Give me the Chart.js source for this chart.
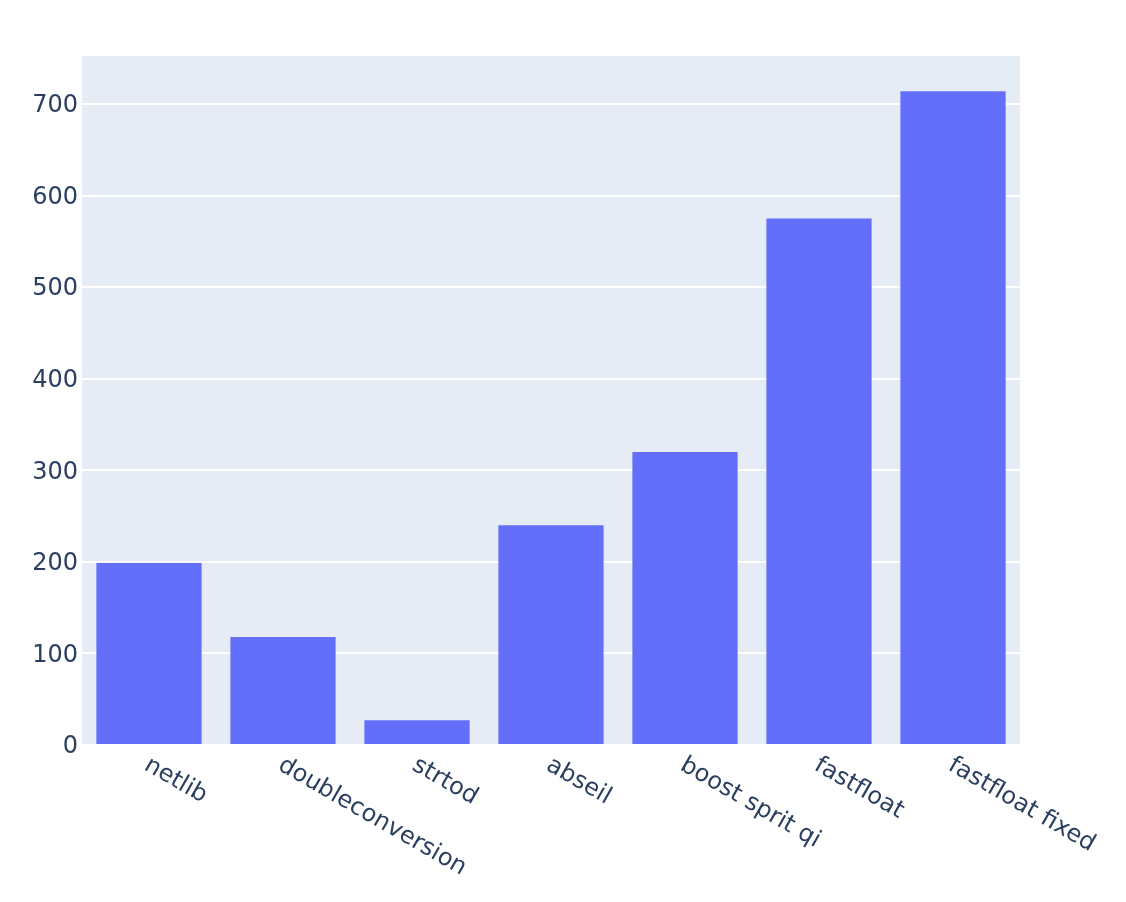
<!DOCTYPE html>
<html lang="en">
<head>
    <meta charset="UTF-8">
    <title>Parsing speed</title>
    <style>
        body {
            margin: 0;
            background: #ffffff;
        }
        #chart {
            display: block;
        }
    </style>
    <script src="https://cdn.jsdelivr.net/npm/chart.js"></script>
</head>
<body>
    <canvas id="chart" width="1126" height="902"></canvas>

    <script>
        // Data
        const libraries = ['netlib', 'doubleconversion', 'strtod', 'abseil', 'boost sprit qi', 'fastfloat', 'fastfloat fixed'];
        const speeds = [200, 119, 28, 241, 321, 576, 715];
        const yTicks = [0, 100, 200, 300, 400, 500, 600, 700];

        const fontFamily = '"DejaVu Sans", Verdana, sans-serif';
        const textColor = '#2a3f5f';

        // Plotly-like background for the plot area
        const plotBackground = {
            id: 'plotBackground',
            beforeDraw(chart) {
                const { ctx, chartArea } = chart;
                ctx.save();
                ctx.fillStyle = '#E5ECF6';
                ctx.fillRect(chartArea.left, chartArea.top, chartArea.right - chartArea.left, chartArea.bottom - chartArea.top);
                ctx.restore();
            }
        };

        // Rotated category labels reading down to the right
        const slantedLabels = {
            id: 'slantedLabels',
            afterDraw(chart) {
                const { ctx, chartArea } = chart;
                const xScale = chart.scales.x;
                ctx.save();
                ctx.font = '24px ' + fontFamily;
                ctx.fillStyle = textColor;
                ctx.textAlign = 'left';
                ctx.textBaseline = 'alphabetic';
                libraries.forEach((name, i) => {
                    const x = xScale.getPixelForValue(i);
                    ctx.save();
                    ctx.translate(x - 6, chartArea.bottom + 24);
                    ctx.rotate(Math.PI / 6);
                    ctx.fillText(name, 0, 0);
                    ctx.restore();
                });
                ctx.restore();
            }
        };

        new Chart(document.getElementById('chart').getContext('2d'), {
            type: 'bar',
            data: {
                labels: libraries,
                datasets: [{
                    data: speeds,
                    backgroundColor: '#636EFA',
                    borderColor: 'rgba(229, 236, 246, 0.5)',
                    borderWidth: 1,
                    barPercentage: 0.8,
                    categoryPercentage: 1.0
                }]
            },
            options: {
                responsive: false,
                animation: false,
                layout: {
                    padding: { left: 0, right: 106, top: 56, bottom: 0 }
                },
                plugins: {
                    legend: { display: false },
                    tooltip: { enabled: false }
                },
                scales: {
                    x: {
                        grid: { display: false },
                        border: { display: false },
                        ticks: { display: false },
                        afterFit(scale) { scale.height = 157; }
                    },
                    y: {
                        min: 0,
                        max: 752.5,
                        grid: { color: '#ffffff', lineWidth: 2, drawTicks: false },
                        border: { display: false },
                        ticks: {
                            padding: 4,
                            labelOffset: 2,
                            color: textColor,
                            font: { family: fontFamily, size: 24 }
                        },
                        afterBuildTicks(scale) {
                            scale.ticks = yTicks.map(v => ({ value: v }));
                        },
                        afterFit(scale) { scale.width = 82; }
                    }
                }
            },
            plugins: [plotBackground, slantedLabels]
        });
    </script>
</body>
</html>
